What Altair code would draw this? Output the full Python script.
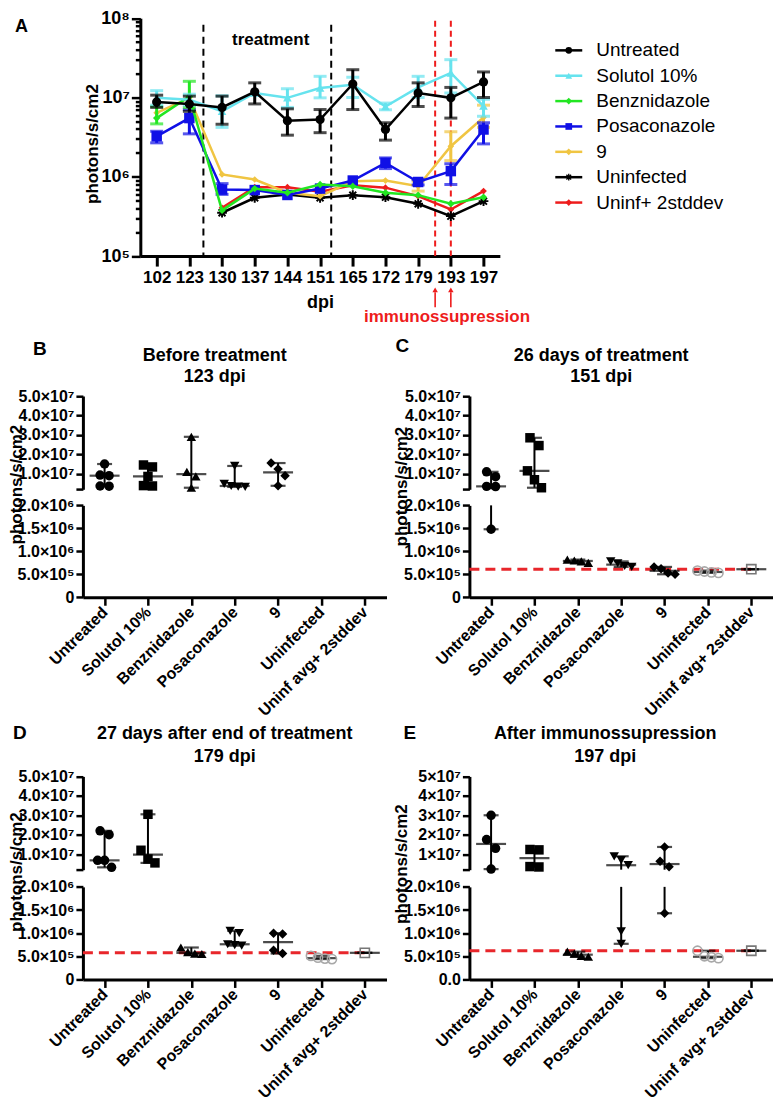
import altair as alt
import pandas as pd

FONT = "Liberation Sans"
N = None

# ===================== Panel A : time course (log scale) =====================
dpi_labels = ["102", "123", "130", "137", "144", "151", "165", "172", "179", "193", "197"]
series = ["Untreated", "Solutol 10%", "Benznidazole", "Posaconazole", "9",
          "Uninfected", "Uninf+ 2stddev"]
series_colors = ["#000000", "#66e3ee", "#22e622", "#1010e6", "#f0c542", "#000000", "#ee1c1c"]

untreated_mean = [8.8e6, 8.3e6, 7.5e6, 1.18e7, 5.1e6, 5.27e6, 1.48e7, 3.95e6, 1.14e7, 9.9e6, 1.57e7]
untreated_lo = [7.5e6, 6.7e6, 4.6e6, 8.3e6, 3.35e6, 3.6e6, 7.05e6, 2.9e6, 7.7e6, 5.5e6, 1.0e7]
untreated_hi = [1.07e7, 1.04e7, 1.04e7, 1.53e7, 7.2e6, 7.05e6, 2.24e7, 4.8e6, 1.53e7, 1.34e7, 2.1e7]

solutol_mean = [9.9e6, 9.4e6, 6.7e6, 1.14e7, 9.9e6, 1.32e7, 1.45e7, 7.7e6, 1.34e7, 2.04e7, 7.8e6]
solutol_lo = [8.0e6, 8.0e6, 4.2e6, N, 7.5e6, 9.9e6, 1.0e7, 7.0e6, 1.0e7, 1.14e7, 5.8e6]
solutol_hi = [1.22e7, 1.1e7, 1.05e7, N, 1.29e7, 1.85e7, 1.8e7, 8.5e6, 1.85e7, 3.0e7, 9.5e6]

benz_mean = [5.5e6, 1.03e7, 3.77e5, 7.1e5, 6.3e5, 8.0e5, 7.6e5, 6.3e5, 5.87e5, 4.57e5, 5.53e5]
benz_lo = [4.65e6, 7.5e6, N, N, N, N, N, N, N, N, N]
benz_hi = [7.7e6, 1.6e7, N, N, N, N, N, N, N, N, N]

posa_mean = [3.24e6, 5.5e6, 6.9e5, 6.8e5, 5.9e5, 7.1e5, 8.97e5, 1.5e6, 8.6e5, 1.18e6, 3.95e6]
posa_lo = [2.68e6, 3.48e6, 6.0e5, N, N, N, N, 1.27e6, 7.9e5, 8.0e5, 2.6e6]
posa_hi = [3.75e6, 7.05e6, 8.2e5, N, N, N, N, 1.73e6, 9.2e5, 1.46e6, 4.8e6]

nine_mean = [6.4e6, 9.9e6, 1.07e6, 9.25e5, 6.3e5, 5.7e5, 8.8e5, 8.97e5, 7.6e5, 2.43e6, 5.6e6]
nine_lo = [N, N, N, N, N, N, N, N, 6.6e5, 1.6e6, 4.2e6]
nine_hi = [N, N, N, N, N, N, N, N, 8.8e5, 3.7e6, 8.0e6]

uninf_mean = [N, N, 3.52e5, 5.43e5, 6.0e5, 5.43e5, 5.87e5, 5.53e5, 4.57e5, 3.19e5, 4.93e5]
uninf_lo = [N, N, N, N, N, N, N, N, N, N, N]
uninf_hi = [N, N, N, N, N, N, N, N, N, N, N]

uninf2sd_mean = [N, N, 4.07e5, 7.4e5, 7.4e5, 6.5e5, 7.8e5, 7.3e5, 5.7e5, 3.87e5, 6.6e5]
uninf2sd_lo = [N, N, N, N, N, N, N, N, N, N, N]
uninf2sd_hi = [N, N, N, N, N, N, N, N, N, N, N]

means = [untreated_mean, solutol_mean, benz_mean, posa_mean, nine_mean, uninf_mean, uninf2sd_mean]
lows = [untreated_lo, solutol_lo, benz_lo, posa_lo, nine_lo, uninf_lo, uninf2sd_lo]
highs = [untreated_hi, solutol_hi, benz_hi, posa_hi, nine_hi, uninf_hi, uninf2sd_hi]

# positions (on the dpi index axis) of the period markers
treatment_marks = [1.43, 5.34]
immuno_marks = [8.52, 9.0]

# ===================== Panels B-E : scatter with median & range =====================
groups = ["Untreated", "Solutol 10%", "Benznidazole", "Posaconazole", "9",
          "Uninfected", "Uninf avg+ 2stddev"]

B_values = [[1.5e7, 9.3e6, 9.0e6, 3.7e6, 3.6e6],
            [1.45e7, 1.35e7, 8.6e6, 3.9e6, 3.7e6],
            [2.9e7, 1.1e7, 8.6e6, 2.8e6],
            [1.4e7, 4.8e6, 3.7e6, 3.4e6, 3.2e6],
            [1.55e7, 1.25e7, 9.0e6, 3.8e6],
            [], []]
C_values = [[1.1e7, 8.5e6, 3.5e6, 3.4e6, 1.48e6],
            [2.85e7, 2.45e7, 1.15e7, 6.9e6, 2.8e6],
            [8.2e5, 8.0e5, 7.8e5, 7.5e5],
            [7.8e5, 7.4e5, 6.8e5, 6.6e5],
            [6.6e5, 6.2e5, 5.3e5, 5.0e5],
            [5.8e5, 5.6e5, 5.4e5, 5.3e5],
            [6.1e5]]
D_values = [[2.2e7, 2.0e7, 6.8e6, 6.8e6, 3.2e6],
            [3.05e7, 1.2e7, 7.5e6, 5.5e6],
            [6.9e5, 5.9e5, 5.6e5, 5.5e5],
            [1.05e6, 1.0e6, 7.6e5, 7.4e5, 7.3e5],
            [1.0e6, 9.8e5, 6.3e5, 5.6e5],
            [5.1e5, 4.7e5, 4.5e5, 4.4e5],
            [5.75e5]]
E_values = [[3.0e7, 1.75e7, 1.3e7, 2.3e6],
            [1.24e7, 1.22e7, 3.6e6, 3.4e6],
            [6.0e5, 5.6e5, 5.1e5, 4.9e5],
            [8.9e6, 6.9e6, 4.3e6, 1.04e6, 7.7e5],
            [1.37e7, 6.3e6, 3.5e6, 1.43e6],
            [6.2e5, 5.0e5, 4.8e5, 4.6e5],
            [6.2e5]]

titles_B = ["Before treatment", "123 dpi"]
titles_C = ["26 days of treatment", "151 dpi"]
titles_D = ["27 days after end of treatment", "179 dpi"]
titles_E = ["After immunossupression", "197 dpi"]

top_tick_values = [2000000, 10000000, 20000000, 30000000, 40000000, 50000000]
top_tick_labels = ["", "1.0×10⁷", "2.0×10⁷", "3.0×10⁷", "4.0×10⁷", "5.0×10⁷"]
top_tick_labels_E = ["", "1×10⁷", "2×10⁷", "3×10⁷", "4×10⁷", "5×10⁷"]
bot_tick_values = [0, 500000, 1000000, 1500000, 2000000]
bot_tick_labels = ["0", "5.0×10⁵", "1.0×10⁶", "1.5×10⁶", "2.0×10⁶"]
bot_tick_labels_E = ["0.0", "5.0×10⁵", "1.0×10⁶", "1.5×10⁶", "2.0×10⁶"]

log_major = [100000, 1000000, 10000000, 100000000]
log_major_labels = ["10⁵", "10⁶", "10⁷", "10⁸"]

# ===================== layout (one plot area holding every panel) =====================
W, H = 765, 1075


def P(v):  # page pixel -> plot pixel (page margin 8)
    return v - 8


ASTERISK = ("M-1,-0.2L1,-0.2L1,0.2L-1,0.2Z M-0.2,-1L0.2,-1L0.2,1L-0.2,1Z "
            "M-0.566,-0.848L0.848,0.566L0.566,0.848L-0.848,-0.566Z "
            "M-0.848,0.566L0.566,-0.848L0.848,-0.566L-0.566,0.848Z")
series_shapes = ["circle", "triangle-up", "diamond", "square", "diamond", ASTERISK, "diamond"]
series_sizes = [85, 75, 55, 110, 45, 95, 45]


def label_expr(values, labels):
    expr = "''"
    for v, l in reversed(list(zip(values, labels))):
        expr = f"datum.value == {v} ? '{l}' : ({expr})"
    return expr


def text_layer(txt, x, y, size, color="black", bold=True, align="center", baseline="alphabetic"):
    return alt.Chart(pd.DataFrame({"t": [txt]})).mark_text(
        font=FONT, fontSize=size, fontWeight="bold" if bold else "normal",
        color=color, align=align, baseline=baseline
    ).encode(text="t:N", x=alt.value(x), y=alt.value(y))


# ---------------- Panel A ----------------
AX0, AX1 = P(139.5), P(499.5)
AY_TOP, AY_BOT = P(13.5), P(251.7)

rowsA = []
for s, m, lo, hi in zip(series, means, lows, highs):
    for i in range(len(dpi_labels)):
        if m[i] is None:
            continue
        rowsA.append({"series": s, "idx": i, "mean": m[i], "lo": lo[i], "hi": hi[i]})
dfA = pd.DataFrame(rowsA)

minor_ticks = [m * 10 ** k for k in (5, 6, 7) for m in range(2, 10)]
axA_x = alt.Axis(orient="bottom", offset=AY_BOT - H, values=list(range(len(dpi_labels))),
                 labelExpr="[" + ",".join(f"'{l}'" for l in dpi_labels) + "][datum.value]",
                 title="dpi", titleFontSize=18, labelFontSize=17, tickSize=10, tickWidth=3,
                 domainWidth=3, labelPadding=3, titlePadding=8, grid=False, labelFlush=False)
axA_y = alt.Axis(orient="left", offset=-AX0, values=sorted(log_major + minor_ticks),
                 labelExpr=label_expr(log_major, log_major_labels),
                 title="photons/s/cm2", titleFontSize=17, titleX=P(91.4) - AX0, titleY=P(139),
                 titleAlign="center", titleBaseline="middle",
                 labelFontSize=18, labelPadding=2, domainWidth=3, tickWidth=2.5,
                 tickSize={"condition": {"test": "indexof([100000,1000000,10000000,100000000], datum.value) >= 0",
                                         "value": 9}, "value": 5},
                 grid=False)
xsA = alt.Scale(domain=[-0.5, 10.5], range=[AX0, AX1], nice=False, zero=False)
ysA = alt.Scale(type="log", domain=[1e5, 1e8], range=[AY_BOT, AY_TOP], nice=False)


def XA(f="idx"):
    return alt.X(f"{f}:Q", scale=xsA, axis=axA_x)


def YA(f="mean"):
    return alt.Y(f"{f}:Q", scale=ysA, axis=axA_y)


layersA = []
layersA.append(alt.Chart(pd.DataFrame({"pos": treatment_marks})).mark_rule(
    color="black", strokeWidth=2, strokeDash=[7, 5]).encode(x=XA("pos"), y=alt.value(P(20)), y2=alt.value(AY_BOT)))
layersA.append(alt.Chart(pd.DataFrame({"pos": immuno_marks})).mark_rule(
    color="#ee1c1c", strokeWidth=2, strokeDash=[6, 4]).encode(x=XA("pos"), y=alt.value(P(16)), y2=alt.value(AY_BOT)))

for s, c, shp, sz in reversed(list(zip(series, series_colors, series_shapes, series_sizes))):
    d = dfA[dfA.series == s]
    layersA.append(alt.Chart(d).mark_line(color=c, strokeWidth=2.5).encode(x=XA(), y=YA()))
    de = d.dropna(subset=["lo", "hi"])
    if len(de):
        layersA.append(alt.Chart(de).mark_rule(color=c, strokeWidth=3).encode(
            x=XA(), y=YA("lo"), y2=alt.Y2("hi")))
        for f in ("lo", "hi"):
            layersA.append(alt.Chart(de).mark_tick(color=c, thickness=3, size=13, orient="horizontal").encode(
                x=XA(), y=YA(f)))
    layersA.append(alt.Chart(d).mark_point(filled=True, shape=shp, size=sz, color=c, opacity=1).encode(
        x=XA(), y=YA()))

layersA.append(alt.Chart(pd.DataFrame({"pos": immuno_marks})).mark_rule(
    color="#ee1c1c", strokeWidth=1.6).encode(x=XA("pos"), y=alt.value(P(303)), y2=alt.value(P(288))))
layersA.append(alt.Chart(pd.DataFrame({"pos": immuno_marks})).mark_point(
    shape="triangle-up", filled=True, size=30, color="#ee1c1c", opacity=1).encode(x=XA("pos"), y=alt.value(P(285.5))))
groupA = alt.layer(*layersA)

# ---------------- legend ----------------
dfL = pd.DataFrame({"series": series})
yL = alt.Y("series:N", sort=series,
           scale=alt.Scale(type="point", domain=series, range=[P(45.7), P(198.1)], padding=0), axis=None)
colL = alt.Color("series:N", scale=alt.Scale(domain=series, range=series_colors), legend=None)
shpL = alt.Shape("series:N", scale=alt.Scale(domain=series, range=series_shapes), legend=None)
groupLegend = alt.layer(
    alt.Chart(dfL).mark_rule(strokeWidth=2.5).encode(y=yL, x=alt.value(P(555)), x2=alt.value(P(582)), color=colL),
    alt.Chart(dfL).mark_point(filled=True, opacity=1, size=45).encode(y=yL, x=alt.value(P(568.5)), color=colL,
                                                                      shape=shpL),
    alt.Chart(dfL).mark_text(font=FONT, fontSize=19, align="left", baseline="middle", color="black").encode(
        y=yL, x=alt.value(P(596)), text="series:N"),
)

# ---------------- panels B-E ----------------
BREAK = 2000000
TOP_MAX = 50000000
PW = 304
STEP = PW / 7
RED = "#e8262b"


def jitter(vals, top_h=93.4, bot_h=92.0, gap=16.0, thr=9.0):
    def pix(v):
        if v >= BREAK:
            return bot_h + gap + (v - BREAK) / (TOP_MAX - BREAK) * top_h
        return v / BREAK * bot_h
    order = sorted(range(len(vals)), key=lambda i: -vals[i])
    clusters = []
    for i in order:
        if clusters and pix(vals[clusters[-1][-1]]) - pix(vals[i]) < thr:
            clusters[-1].append(i)
        else:
            clusters.append([i])
    offs = [0.0] * len(vals)
    for c in clusters:
        sp = 9 if len(c) <= 2 else 7
        for k, i in enumerate(c):
            offs[i] = (k - (len(c) - 1) / 2) * sp
    return offs


shape_scale = alt.Scale(domain=groups, range=["circle", "square", "triangle-up", "triangle-down", "diamond",
                                              "circle", "square"])
stroke_scale = alt.Scale(domain=groups, range=["black"] * 5 + ["#a8a8a8", "#777777"])


def make_panel(geom, values, top_labels, bot_labels, show_red):
    x0 = P(geom["x0"])
    top_rng = [P(geom["top"][1]), P(geom["top"][0])]
    bot_rng = [P(geom["bot"][1]), P(geom["bot"][0])]
    rows = []
    for g, vals in zip(groups, values):
        for v, o in zip(vals, jitter(vals)):
            rows.append({"group": g, "value": v, "off": o})
    df = pd.DataFrame(rows)
    xscale = alt.Scale(type="point", domain=groups, range=[x0, x0 + PW], padding=0.5)

    def seg(top):
        if top:
            domain, rng = [BREAK, TOP_MAX], top_rng
            yaxis = alt.Axis(orient="left", offset=-x0, values=top_tick_values,
                             labelExpr=label_expr(top_tick_values, top_labels),
                             title=None, tickSize=7, tickWidth=2.5, domainWidth=3, labelFontSize=16,
                             labelPadding=2, grid=False)
            xaxis = None
        else:
            domain, rng = [0, BREAK], bot_rng
            yaxis = alt.Axis(orient="left", offset=-x0, values=bot_tick_values,
                             labelExpr=label_expr(bot_tick_values, bot_labels),
                             title="photons/s/cm2", titleFontSize=17,
                             titleX=P(geom["ytitle"][0]) - x0, titleY=P(geom["ytitle"][1]),
                             titleAlign="center", titleBaseline="middle",
                             tickSize=7, tickWidth=2.5, domainWidth=3, labelFontSize=16,
                             labelPadding=2, grid=False)
            xaxis = alt.Axis(orient="bottom", offset=bot_rng[0] - H, title=None, labelAngle=315,
                             labelAlign="right", labelBaseline="middle",
                             labelFontSize=16, tickSize=8, tickWidth=2.5, domainWidth=3,
                             labelPadding=4, grid=False, labelLimit=300)
        X = alt.X("group:N", scale=xscale, axis=xaxis, title=None)

        def Y(f):
            return alt.Y(f"{f}:Q", scale=alt.Scale(domain=domain, range=rng, nice=False, zero=False, clamp=True),
                         axis=yaxis)

        def inside(f):
            return f"datum.{f} >= {BREAK}" if top else f"datum.{f} < {BREAK}"

        layers = []
        if show_red and not top:
            layers.append(alt.Chart(df).transform_filter(
                alt.FieldEqualPredicate(field="group", equal=groups[6])).mark_rule(
                color=RED, strokeWidth=3, strokeDash=[10, 6]).encode(
                y=Y("value"), x=alt.value(x0), x2=alt.value(x0 + PW - STEP / 2)))
        agg = alt.Chart(df).transform_aggregate(lo="min(value)", hi="max(value)", med="median(value)",
                                                groupby=["group"])
        layers.append(agg.transform_filter(inside("hi") if top else inside("lo")).mark_rule(
            color="black", strokeWidth=2).encode(x=X, y=Y("lo"), y2=alt.Y2("hi")))
        for f, w in (("lo", 15), ("hi", 15), ("med", 30)):
            layers.append(agg.transform_filter(inside(f)).mark_tick(
                color="black", thickness=2.2, size=w, orient="horizontal").encode(x=X, y=Y(f)))
        base = alt.Chart(df).transform_filter(inside("value"))
        layers.append(base.transform_filter(alt.FieldOneOfPredicate(field="group", oneOf=groups[:5])).mark_point(
            filled=True, size=90, color="black", opacity=1).encode(
            x=X, xOffset=alt.XOffset("off:Q", scale=None), y=Y("value"),
            shape=alt.Shape("group:N", scale=shape_scale, legend=None)))
        layers.append(base.transform_filter(alt.FieldOneOfPredicate(field="group", oneOf=groups[5:])).mark_point(
            filled=False, size=85, strokeWidth=1.6, opacity=1).encode(
            x=X, xOffset=alt.XOffset("off:Q", scale=None), y=Y("value"),
            shape=alt.Shape("group:N", scale=shape_scale, legend=None),
            stroke=alt.Stroke("group:N", scale=stroke_scale, legend=None)))
        return alt.layer(*layers)

    return [seg(True), seg(False)]


geoB = {"x0": 82, "top": (391.8, 485.2), "bot": (501.3, 593.3), "ytitle": (16, 480)}
geoC = {"x0": 469, "top": (391.8, 485.2), "bot": (501.3, 593.3), "ytitle": (401, 482)}
geoD = {"x0": 82, "top": (772.7, 866.1), "bot": (883.3, 976.0), "ytitle": (16, 868)}
geoE = {"x0": 469, "top": (772.7, 866.1), "bot": (883.3, 976.0), "ytitle": (401, 860)}

panels = []
panels += make_panel(geoB, B_values, top_tick_labels, bot_tick_labels, False)
panels += make_panel(geoC, C_values, top_tick_labels, bot_tick_labels, True)
panels += make_panel(geoD, D_values, top_tick_labels, bot_tick_labels, True)
panels += make_panel(geoE, E_values, top_tick_labels_E, bot_tick_labels_E, True)

# ---------------- texts ----------------
texts = [
    text_layer("A", P(14), P(22), 18, align="left", baseline="middle"),
    text_layer("treatment", P(270), P(40), 17),
    text_layer("immunossupression", P(446.6), P(318), 17, color="#ee1c1c"),
    text_layer("B", P(32), P(345), 19, align="left", baseline="middle"),
    text_layer("C", P(395), P(342), 19, align="left", baseline="middle"),
    text_layer("D", P(12), P(729), 19, align="left", baseline="middle"),
    text_layer("E", P(403), P(729), 19, align="left", baseline="middle"),
    text_layer(titles_B[0], P(214), P(357), 18), text_layer(titles_B[1], P(214), P(378), 18),
    text_layer(titles_C[0], P(601), P(357), 18), text_layer(titles_C[1], P(601), P(378), 18),
    text_layer(titles_D[0], P(224), P(735), 18), text_layer(titles_D[1], P(224), P(758), 18),
    text_layer(titles_E[0], P(605), P(735), 18), text_layer(titles_E[1], P(605), P(758), 18),
]

chart = alt.layer(groupA, groupLegend, *panels, *texts).resolve_scale(
    x="independent", y="independent", color="independent", shape="independent", stroke="independent"
).resolve_axis(x="independent", y="independent").properties(
    width=W, height=H, padding=0
).configure_view(stroke=None).configure_axis(
    labelFont=FONT, titleFont=FONT, labelFontWeight="bold", titleFontWeight="bold",
    labelColor="black", titleColor="black", domainColor="black", tickColor="black"
)

chart.save("out.html", embed_options={"renderer": "svg", "actions": False})
